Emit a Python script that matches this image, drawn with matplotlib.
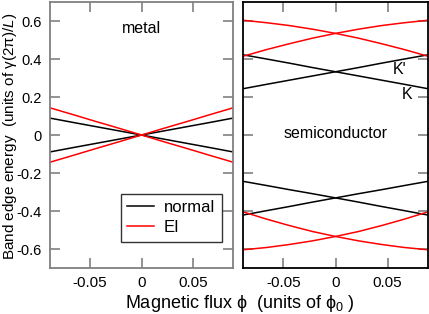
""" Band edge energy vs magnetic flux """

import matplotlib
matplotlib.use("Agg")
import matplotlib.pyplot as plt

plt.rcParams['font.family'] = ['Liberation Sans', 'DejaVu Sans']
plt.rcParams['mathtext.fontset'] = 'custom'
plt.rcParams['mathtext.rm'] = 'Liberation Sans'
plt.rcParams['mathtext.it'] = 'Liberation Sans:italic'

# flux values (units of phi_0)
phi = [-0.0885, -0.066, -0.044, -0.022, 0.0, 0.022, 0.044, 0.066, 0.0885]

# metal
metal_normal_up = [-0.089, -0.066, -0.044, -0.022, 0.0, 0.022, 0.044, 0.066, 0.089]
metal_ei_up = [-0.143, -0.107, -0.071, -0.036, 0.0, 0.036, 0.071, 0.107, 0.143]

# semiconductor (rising branches; falling branches are the mirror image)
semi_normal_hi = [0.244, 0.267, 0.289, 0.311, 0.333, 0.355, 0.378, 0.400, 0.422]
semi_normal_lo = [-0.421, -0.398, -0.376, -0.353, -0.331, -0.309, -0.288, -0.266, -0.244]
semi_ei_hi = [0.415, 0.450, 0.481, 0.510, 0.535, 0.557, 0.576, 0.591, 0.604]
semi_ei_lo = [-0.604, -0.592, -0.576, -0.557, -0.534, -0.508, -0.477, -0.443, -0.405]

x_ticks = [-0.05, 0.0, 0.05]
x_labels = ['-0.05', '0', '0.05']
y_ticks = [-0.6, -0.4, -0.2, 0.0, 0.2, 0.4, 0.6]
y_labels = ['-0.6', '-0.4', '-0.2', '0', '0.2', '0.4', '0.6']


def style_axes(ax, frame_color):
    """ Common axes styling """
    ax.set_xlim(-0.0885, 0.0885)
    ax.set_ylim(-0.7, 0.7)
    ax.set_xticks(x_ticks)
    ax.set_xticklabels(x_labels, fontsize=11)
    ax.set_yticks(y_ticks)
    ax.tick_params(direction='in', length=7, width=1.2, color='#808080',
                   top=True, right=True, pad=6)
    for s in ax.spines.values():
        s.set_color(frame_color)
        s.set_linewidth(1.3)


fig = plt.figure(figsize=(4.29, 3.14), dpi=100)
ax1 = fig.add_axes([0.1166, 0.1465, 0.4266, 0.847])
ax2 = fig.add_axes([0.5672, 0.1465, 0.4298, 0.847])

lw = 1.1
ax1.plot(phi, metal_normal_up, color='black', lw=lw, label='normal')
ax1.plot(phi, metal_normal_up[::-1], color='black', lw=lw)
ax1.plot(phi, metal_ei_up, color='red', lw=lw, label='EI')
ax1.plot(phi, metal_ei_up[::-1], color='red', lw=lw)
style_axes(ax1, '#808080')
ax1.set_yticklabels(y_labels, fontsize=10.5)
ax1.text(0.0, 0.56, 'metal', fontsize=11.5, ha='center', va='center')
leg = ax1.legend(loc='lower left', bbox_to_anchor=(0.386, 0.098),
                 borderaxespad=0, fancybox=False, fontsize=12,
                 handlelength=1.6, handletextpad=0.6, framealpha=1,
                 borderpad=0.4, labelspacing=0.3)
leg.get_frame().set_edgecolor('#333333')
leg.get_frame().set_linewidth(1.0)

for ys in (semi_normal_hi, semi_normal_lo):
    ax2.plot(phi, ys, color='black', lw=lw)
    ax2.plot(phi, ys[::-1], color='black', lw=lw)
for ys in (semi_ei_hi, semi_ei_lo):
    ax2.plot(phi, ys, color='red', lw=lw)
    ax2.plot(phi, ys[::-1], color='red', lw=lw)
style_axes(ax2, 'black')
ax2.set_yticklabels([])
ax2.text(0.0, 0.01, 'semiconductor', fontsize=11.5, ha='center', va='center')
ax2.text(0.061, 0.344, "K'", fontsize=11.5, ha='center', va='center')
ax2.text(0.069, 0.214, 'K', fontsize=11.5, ha='center', va='center')

fig.text(0.56, 0.035, r'Magnetic flux ϕ  (units of ϕ$_0$ )', fontsize=13,
         ha='center', va='center')
fig.text(0.023, 0.565, r'Band edge energy  (units of γ(2π)/$\it{L}$)',
         fontsize=11, rotation=90, ha='center', va='center')

fig.savefig('out.png', dpi=100)
